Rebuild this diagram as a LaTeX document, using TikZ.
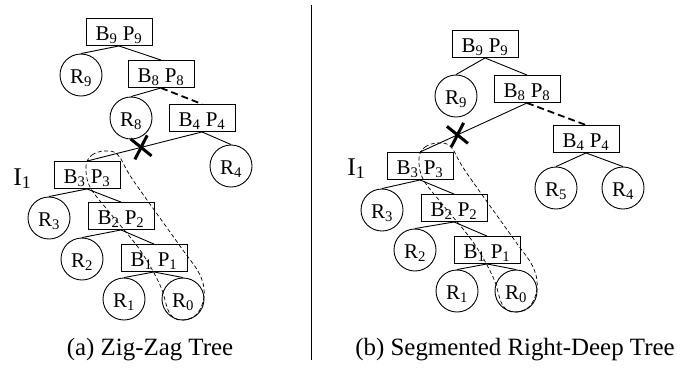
\documentclass[tikz,border=0pt]{standalone}
\usepackage{fontspec}
\setmainfont{Liberation Serif}
\usetikzlibrary{shapes.misc}

\begin{document}
\begin{tikzpicture}[
  x = 1pt, y = -1pt,
  line width = 0.9pt,
  every node/.style={font=\fontsize{21}{25}\selectfont},
  bp/.style={draw, minimum width=66pt, minimum height=27pt, inner sep=0pt, text height=17pt, text depth=0pt},
  rel/.style={draw, circle, minimum size=42pt, inner sep=0pt, text height=17pt, text depth=0pt},
  cutedge/.style={line width=1.8pt, dash pattern=on 7pt off 4pt},
  segline/.style={line width=0.7pt, dash pattern=on 4pt off 2.5pt},
  xmark/.style={draw, cross out, line width=3pt, minimum width=14pt, minimum height=18pt, inner sep=0pt, rotate=12},
  treecaption/.style={font=\fontsize{24.9}{30}\selectfont, anchor=base},
  ilabel/.style={font=\fontsize{25.5}{30}\selectfont, anchor=base west, inner sep=0pt}]
\useasboundingbox (0,0) rectangle (677,368);
% (a) zig-zag tree
\node[bp] (lb9) at (119,32) {B\textsubscript{9} P\textsubscript{9}};
\node[rel] (lr9) at (81,75) {R\textsubscript{9}};
\node[bp] (lb8) at (161,74) {B\textsubscript{8} P\textsubscript{8}};
\node[rel] (lr8) at (131,118) {R\textsubscript{8}};
\node[bp] (lb4) at (202,118) {B\textsubscript{4} P\textsubscript{4}};
\node[rel] (lr4) at (231,166) {R\textsubscript{4}};
\node[bp] (lb3) at (87,175) {B\textsubscript{3} P\textsubscript{3}};
\node[rel] (lr3) at (49,218) {R\textsubscript{3}};
\node[bp] (lb2) at (121,216) {B\textsubscript{2} P\textsubscript{2}};
\node[rel] (lr2) at (82,259) {R\textsubscript{2}};
\node[bp] (lb1) at (154,258) {B\textsubscript{1} P\textsubscript{1}};
\node[rel] (lr1) at (124,299) {R\textsubscript{1}};
\node[rel] (lr0) at (183,299) {R\textsubscript{0}};
\node[ilabel] (li1) at (13,185) {I\textsubscript{1}};
\draw (lb9.south) -- (lr9.north) (lb9.south) -- (lb8.north);
\draw (lb8.south) -- (lr8.north);
\draw[cutedge] (lb8.south) -- (lb4.north);
\draw (lb4.south) -- node[xmark, pos=0.53] (lx) {} (lb3.north);
\draw (lb4.south) -- (lr4.north);
\draw (lb3.south) -- (lr3.north) (lb3.south) -- (lb2.north);
\draw (lb2.south) -- (lr2.north) (lb2.south) -- (lb1.north);
\draw (lb1.south) -- (lr1.north) (lb1.south) -- (lr0.north);
\draw[segline] plot[smooth cycle, tension=0.6] coordinates {(86,166) (92,155) (105,151) (118,155) (133,180) (180,246) (200,275) (204,297) (196,315) (180,320) (169,312) (160,285) (140,250) (110,213) (90,187)};
\node[treecaption] (capa) at (150,355) {(a) Zig-Zag Tree};
% divider
\draw (311,5) -- (311,360);
% (b) segmented right-deep tree
\node[bp] (rb9) at (485,44) {B\textsubscript{9} P\textsubscript{9}};
\node[rel] (rr9) at (456,96) {R\textsubscript{9}};
\node[bp] (rb8) at (527,89) {B\textsubscript{8} P\textsubscript{8}};
\node[bp] (rb4) at (586,139) {B\textsubscript{4} P\textsubscript{4}};
\node[rel] (rr5) at (556,188) {R\textsubscript{5}};
\node[rel] (rr4) at (623,188) {R\textsubscript{4}};
\node[bp] (rb3) at (420,166) {B\textsubscript{3} P\textsubscript{3}};
\node[rel] (rr3) at (382,210) {R\textsubscript{3}};
\node[bp] (rb2) at (454,208) {B\textsubscript{2} P\textsubscript{2}};
\node[rel] (rr2) at (415,250) {R\textsubscript{2}};
\node[bp] (rb1) at (487,250) {B\textsubscript{1} P\textsubscript{1}};
\node[rel] (rr1) at (457,291) {R\textsubscript{1}};
\node[rel] (rr0) at (516,291) {R\textsubscript{0}};
\node[ilabel] (ri1) at (347,175) {I\textsubscript{1}};
\draw (rb9.south) -- (rr9.north) (rb9.south) -- (rb8.north);
\draw (rb8.south) -- node[xmark, pos=0.65] (rx) {} (rb3.north);
\draw[cutedge] (rb8.south) -- (rb4.north);
\draw (rb4.south) -- (rr5.north) (rb4.south) -- (rr4.north);
\draw (rb3.south) -- (rr3.north) (rb3.south) -- (rb2.north);
\draw (rb2.south) -- (rr2.north) (rb2.south) -- (rb1.north);
\draw (rb1.south) -- (rr1.north) (rb1.south) -- (rr0.north);
\draw[segline, shift={(333,-8)}] plot[smooth cycle, tension=0.6] coordinates {(86,166) (92,155) (105,151) (118,155) (133,180) (180,246) (200,275) (204,297) (196,315) (180,320) (169,312) (160,285) (140,250) (110,213) (90,187)};
\node[treecaption] (capb) at (515,355) {(b) Segmented Right-Deep Tree};
\end{tikzpicture}
\end{document}
